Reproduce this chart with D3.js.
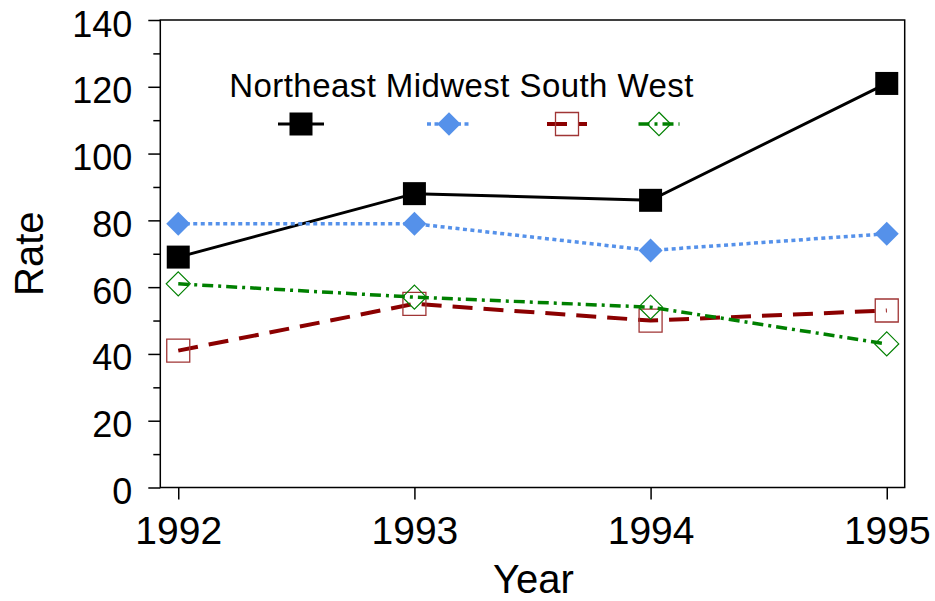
<!DOCTYPE html>
<html>
<head>
<meta charset="utf-8">
<script src="https://cdn.jsdelivr.net/npm/d3@7"></script>
<style>
html,body{margin:0;padding:0;background:#fff;}
svg{display:block;font-family:"Liberation Sans",Arial,sans-serif;}
</style>
</head>
<body>
<svg id="chart" width="935" height="601"></svg>
<script>
const years = [1992, 1993, 1994, 1995];
const seriesNames = ["Northeast", "Midwest", "South", "West"];
const northeast = [69, 88, 86, 121];
const midwest = [79, 79, 71, 76];
const south = [41, 55, 50, 53];
const west = [61, 57, 54, 43];
const yTicks = [0, 20, 40, 60, 80, 100, 120, 140];
const yMinorTicks = [10, 30, 50, 70, 90, 110, 130];

const seriesValues = [northeast, midwest, south, west];
const styles = [
  {color: "#000000", width: 3, dash: null, marker: "square", fill: "#000000", mstroke: "none", msw: 0},
  {color: "#5591ea", width: 3.5, dash: "4,3.5", marker: "diamond", fill: "#5591ea", mstroke: "none", msw: 0},
  {color: "#8b0000", width: 4, dash: "20,11", marker: "square", fill: "none", mstroke: "#a03535", msw: 1.3},
  {color: "#008000", width: 3.5, dash: "11,5,3,5", marker: "diamond", fill: "none", mstroke: "#008000", msw: 1.2}
];

const svg = d3.select("#chart");
const L = 160.3, R = 904.7, T = 20, B = 487.5;
const pad = 0.076;
const x = d3.scaleLinear().domain([1992 - pad, 1995 + pad]).range([L, R]);
const y = d3.scaleLinear().domain([0, 140]).range([B, T]);

// frame
svg.append("rect").attr("x", L).attr("y", T).attr("width", R - L).attr("height", B - T)
  .attr("fill", "none").attr("stroke", "#000").attr("stroke-width", 1.5);

// y axis
const yAxis = svg.append("g").attr("transform", `translate(${L},0)`)
  .call(d3.axisLeft(y).tickValues(yTicks).tickSize(12).tickPadding(16).tickFormat(d3.format("d")));
yAxis.select(".domain").remove();
yAxis.selectAll("line").attr("stroke-width", 1.5);
yAxis.selectAll("text").attr("font-size", 36).attr("dy", "16px").attr("fill", "#000")
  .attr("font-family", "Liberation Sans, Arial, sans-serif");
const yMinor = svg.append("g").attr("transform", `translate(${L},0)`)
  .call(d3.axisLeft(y).tickValues(yMinorTicks).tickSize(7).tickFormat(""));
yMinor.select(".domain").remove();
yMinor.selectAll("line").attr("stroke-width", 1.5);

// x axis
const xAxis = svg.append("g").attr("transform", `translate(0,${B})`)
  .call(d3.axisBottom(x).tickValues(years).tickSize(12).tickPadding(0).tickFormat(d3.format("d")));
xAxis.select(".domain").remove();
xAxis.selectAll("line").attr("stroke-width", 1.5);
xAxis.selectAll("text").attr("font-size", 39).attr("dy", null).attr("y", 56).attr("fill", "#000")
  .attr("font-family", "Liberation Sans, Arial, sans-serif");

// axis titles
svg.append("text").attr("x", (L + R) / 2 + 1).attr("y", 593).attr("text-anchor", "middle")
  .attr("font-size", 40).text("Year");
svg.append("text").attr("transform", `translate(43,${(T + B) / 2}) rotate(-90)`)
  .attr("text-anchor", "middle").attr("font-size", 40).text("Rate");

function markerPath(type, s) {
  const h = s / 2;
  if (type === "square") return `M${-h},${-h}H${h}V${h}H${-h}Z`;
  return `M0,${-h}L${h},0L0,${h}L${-h},0Z`;
}

const line = d3.line().x((d, i) => x(years[i])).y(d => y(d));

seriesValues.forEach((vals, si) => {
  const st = styles[si];
  const g = svg.append("g");
  g.append("path").datum(vals).attr("d", line).attr("fill", "none")
    .attr("stroke", st.color).attr("stroke-width", st.width)
    .attr("stroke-dasharray", st.dash);
  g.selectAll("path.m").data(vals).join("path").attr("class", "m")
    .attr("transform", (d, i) => `translate(${x(years[i])},${y(d)})`)
    .attr("d", markerPath(st.marker, st.marker === "square" ? 23 : 24))
    .attr("fill", st.fill).attr("stroke", st.mstroke).attr("stroke-width", st.msw);
});

// legend
svg.append("text").attr("x", 229.3).attr("y", 96.7).attr("font-size", 33)
  .attr("textLength", 464).attr("lengthAdjust", "spacing")
  .text(seriesNames.join(" "));
const legendCx = [301, 449, 567, 659];
const legendHalf = [23, 22, 20, 20.5];
const legY = 124;
seriesNames.forEach((n, si) => {
  const st = styles[si];
  const cx = legendCx[si];
  svg.append("line").attr("x1", cx - legendHalf[si]).attr("x2", cx + legendHalf[si])
    .attr("y1", legY).attr("y2", legY)
    .attr("stroke", st.color).attr("stroke-width", st.width)
    .attr("stroke-dasharray", st.dash);
  svg.append("path").attr("transform", `translate(${cx},${legY})`)
    .attr("d", markerPath(st.marker, st.marker === "square" ? 23 : 23.5))
    .attr("fill", st.fill).attr("stroke", st.mstroke).attr("stroke-width", st.msw);
});
</script>
</body>
</html>
